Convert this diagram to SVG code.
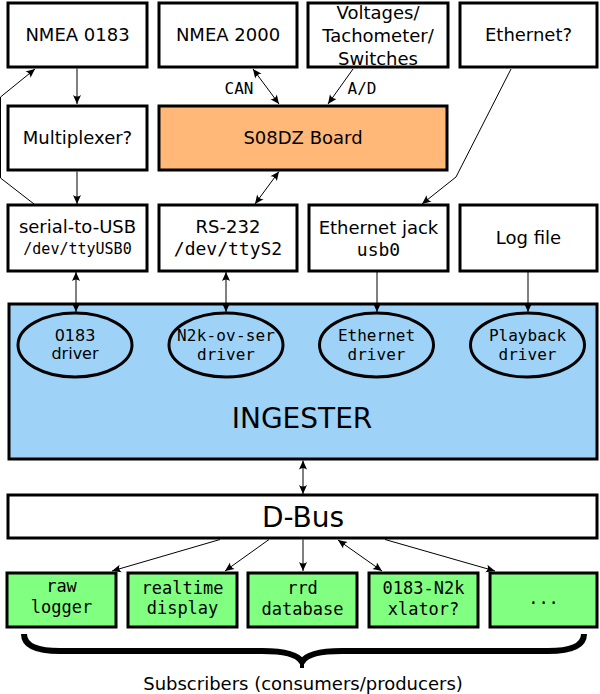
<svg xmlns="http://www.w3.org/2000/svg" width="600" height="694" viewBox="0 0 600 694">
<defs>
<style>
.box{fill:#fff;stroke:#000;stroke-width:3}
.org{fill:#ffb878;stroke:#000;stroke-width:3}
.blu{fill:#9ed3f7;stroke:#000;stroke-width:3}
.grn{fill:#80ff80;stroke:#000;stroke-width:3}
.ell{fill:#9ed3f7;stroke:#000;stroke-width:3}
.t{font-family:"DejaVu Sans","Liberation Sans",sans-serif;font-size:18px;text-anchor:middle;fill:#000}
.tl{font-family:"DejaVu Sans","Liberation Sans",sans-serif;font-size:28px;text-anchor:middle;fill:#000}
.m{font-family:"DejaVu Sans Mono","Liberation Mono",monospace;font-size:18px;text-anchor:middle;fill:#000}
.ms{font-family:"DejaVu Sans Mono","Liberation Mono",monospace;font-size:15px;text-anchor:middle;fill:#000}
.me{font-family:"DejaVu Sans Mono","Liberation Mono",monospace;font-size:16px;text-anchor:middle;fill:#000}
.mg{font-family:"DejaVu Sans Mono","Liberation Mono",monospace;font-size:17px;text-anchor:middle;fill:#000}
.c{fill:none;stroke:#000;stroke-width:1}
.a{marker-end:url(#ah)}
.b{marker-start:url(#ah);marker-end:url(#ah)}
</style>
<marker id="ah" viewBox="-10 -5 11 10" refX="0" refY="0" markerWidth="11" markerHeight="10" markerUnits="userSpaceOnUse" orient="auto-start-reverse">
<path d="M0,0 L-9,-4 Q-6,0 -9,4 Z" fill="#000"/>
</marker>
</defs>

<g id="nmea0183"><rect class="box" x="8" y="3" width="139" height="64"/><text class="t" x="77.5" y="41">NMEA 0183</text></g>
<g id="nmea2000"><rect class="box" x="159" y="3" width="138" height="64"/><text class="t" x="228" y="41">NMEA 2000</text></g>
<g id="voltages"><rect class="box" x="308" y="3" width="140" height="64"/>
<text class="t" x="378" y="18.5">Voltages/</text><text class="t" x="378" y="42">Tachometer/</text><text class="t" x="378" y="65">Switches</text></g>
<g id="ethernetq"><rect class="box" x="460" y="3" width="137" height="64"/><text class="t" x="528.5" y="41">Ethernet?</text></g>

<g id="multiplexer"><rect class="box" x="8" y="106" width="139" height="64"/><text class="t" x="77.5" y="144">Multiplexer?</text></g>
<g id="s08dz"><rect class="org" x="159" y="106" width="288" height="64"/><text class="t" x="303" y="144">S08DZ Board</text></g>

<g id="serialusb"><rect class="box" x="8" y="205" width="139" height="66"/><text class="t" x="77.5" y="233">serial-to-USB</text><text class="ms" x="77.5" y="254">/dev/ttyUSB0</text></g>
<g id="rs232"><rect class="box" x="159" y="205" width="138" height="66"/><text class="t" x="228" y="233">RS-232</text><text class="m" x="228" y="255">/dev/ttyS2</text></g>
<g id="ethjack"><rect class="box" x="309" y="205" width="139" height="66"/><text class="t" x="378.5" y="234">Ethernet jack</text><text class="m" x="378.5" y="256">usb0</text></g>
<g id="logfile"><rect class="box" x="460" y="205" width="137" height="66"/><text class="t" x="528.5" y="244">Log file</text></g>

<g id="ingester"><rect class="blu" x="9" y="304" width="588" height="155"/><text class="tl" x="302" y="428">INGESTER</text></g>
<g id="drv0183"><ellipse class="ell" cx="75" cy="345" rx="57" ry="32"/><text class="t" style="font-size:16px" x="75" y="341">0183</text><text class="t" style="font-size:16px" x="75" y="359">driver</text></g>
<g id="drvn2k"><ellipse class="ell" cx="226" cy="345" rx="57" ry="32"/><text class="me" x="226" y="341" textLength="98" lengthAdjust="spacing">N2k-ov-ser</text><text class="me" x="226" y="360">driver</text></g>
<g id="drveth"><ellipse class="ell" cx="376.5" cy="345" rx="57" ry="32"/><text class="me" x="376.5" y="341">Ethernet</text><text class="me" x="376.5" y="360">driver</text></g>
<g id="drvplay"><ellipse class="ell" cx="527.5" cy="345" rx="57" ry="32"/><text class="me" x="527.5" y="341">Playback</text><text class="me" x="527.5" y="360">driver</text></g>

<g id="dbus"><rect class="box" x="8" y="495" width="589" height="43"/><text class="tl" x="303" y="527">D-Bus</text></g>

<g id="rawlogger"><rect class="grn" x="7" y="573" width="109" height="54"/><text class="mg" x="61.5" y="592">raw</text><text class="mg" x="61.5" y="613">logger</text></g>
<g id="realtime"><rect class="grn" x="128" y="573" width="109" height="54"/><text class="mg" x="182.5" y="594">realtime</text><text class="mg" x="182.5" y="614">display</text></g>
<g id="rrd"><rect class="grn" x="248" y="573" width="109" height="54"/><text class="mg" x="302.5" y="594">rrd</text><text class="mg" x="302.5" y="615">database</text></g>
<g id="xlator"><rect class="grn" x="369" y="573" width="109" height="54"/><text class="mg" x="423.5" y="594">0183-N2k</text><text class="mg" x="423.5" y="615">xlator?</text></g>
<g id="more"><rect class="grn" x="490" y="573" width="107" height="54"/><text class="mg" x="543.5" y="604">...</text></g>

<g id="brace">
<path d="M24,634 Q24,651 60,651 L262,651 Q296,651 302,662 Q308,651 342,651 L548,651 Q584,651 584,634" fill="none" stroke="#000" stroke-width="6" stroke-linejoin="round"/>
<line x1="302" y1="658" x2="302" y2="668" stroke="#000" stroke-width="4"/>
<text class="t" x="303" y="690">Subscribers (consumers/producers)</text>
</g>

<g id="connectors">
<line class="c a" x1="77" y1="68.5" x2="77" y2="104"/>
<line class="c a" x1="77" y1="171.5" x2="77" y2="204"/>
<polyline class="c a" points="34,204 0.5,178 0.5,97 35,69"/>
<line class="c b" x1="253" y1="69" x2="279" y2="104"/>
<line class="c a" x1="353" y1="69" x2="328" y2="104"/>
<line class="c b" x1="279" y1="171.5" x2="255" y2="204"/>
<polyline class="c a" points="511,69 456,177 422,204"/>
<line class="c b" x1="76" y1="272" x2="76" y2="312"/>
<line class="c b" x1="226" y1="272" x2="226" y2="312"/>
<line class="c a" x1="377" y1="272" x2="377" y2="312"/>
<line class="c a" x1="528" y1="272" x2="528" y2="312"/>
<line class="c b" x1="303" y1="460.5" x2="303" y2="494"/>
<line class="c a" x1="220" y1="539.5" x2="112" y2="571"/>
<line class="c a" x1="269" y1="539.5" x2="225" y2="571"/>
<line class="c a" x1="303" y1="539.5" x2="303" y2="571"/>
<line class="c b" x1="338" y1="540" x2="382" y2="571"/>
<line class="c a" x1="385" y1="539.5" x2="495" y2="571"/>
<text class="me" x="239" y="94">CAN</text>
<text class="me" x="362" y="94">A/D</text>
</g>
</svg>
